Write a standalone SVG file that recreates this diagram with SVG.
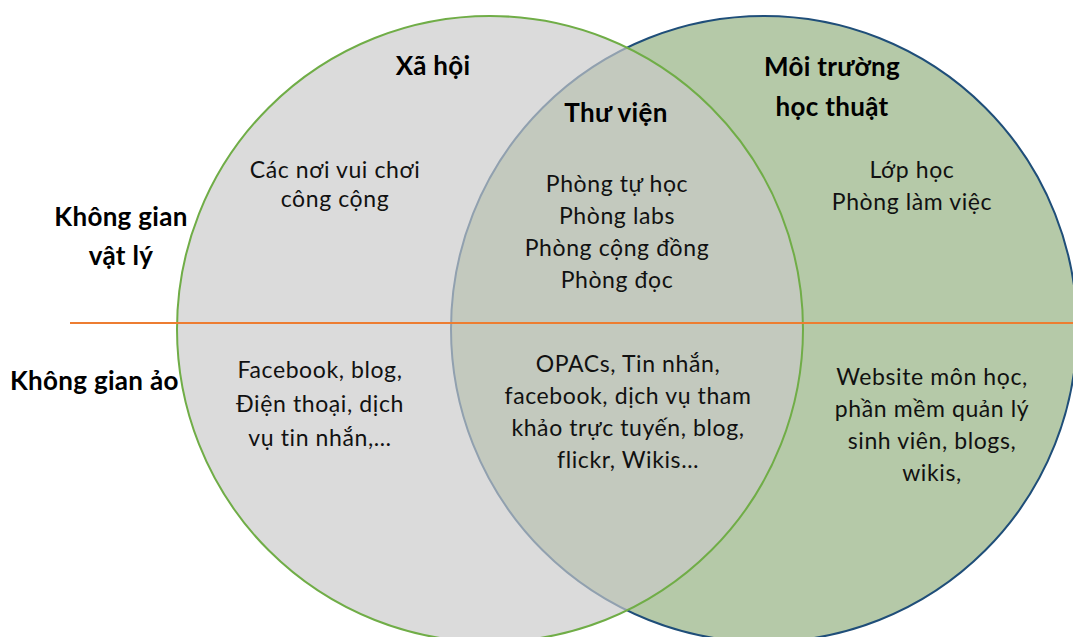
<svg xmlns="http://www.w3.org/2000/svg" width="1073" height="637" viewBox="0 0 1073 637">
<style>
.t{font-family:Lato,"Noto Sans",sans-serif;font-size:23px;fill:#111;text-anchor:middle;letter-spacing:0.6px}
.b{font-family:Lato,"Noto Sans",sans-serif;font-size:26px;font-weight:bold;fill:#000;text-anchor:middle;letter-spacing:0.3px}
</style>
<rect width="1073" height="637" fill="#ffffff"/>
<g id="circle-moi-truong">
<circle cx="764" cy="329" r="313" fill="#b5c9a8" stroke="#1f4e79" stroke-width="2"/>
</g>
<g id="circle-xa-hoi">
<circle cx="490" cy="329" r="313" fill="#c9c9c9" fill-opacity="0.67" stroke="#70ad47" stroke-width="2"/>
</g>
<g id="connectors">
<line x1="70" y1="323" x2="1073" y2="323" stroke="#ed7d31" stroke-width="2"/>
</g>
<g id="label-xa-hoi"><text class="b" x="433" y="75">Xã hội</text></g>
<g id="label-thu-vien"><text class="b" x="616" y="122">Thư viện</text></g>
<g id="label-moi-truong"><text class="b" x="832" y="76">Môi trường</text><text class="b" x="832" y="116">học thuật</text></g>
<g id="label-vat-ly"><text class="b" x="121" y="226">Không gian</text><text class="b" x="121" y="265">vật lý</text></g>
<g id="label-ao"><text class="b" x="10" y="390" style="text-anchor:start">Không gian ảo</text></g>
<g id="xa-hoi-vat-ly"><text class="t" x="335" y="178">Các nơi vui chơi</text><text class="t" x="335" y="207">công cộng</text></g>
<g id="thu-vien-vat-ly"><text class="t" x="617" y="192">Phòng tự học</text><text class="t" x="617" y="224">Phòng labs</text><text class="t" x="617" y="256">Phòng cộng đồng</text><text class="t" x="617" y="288">Phòng đọc</text></g>
<g id="moi-truong-vat-ly"><text class="t" x="912" y="178">Lớp học</text><text class="t" x="912" y="210">Phòng làm việc</text></g>
<g id="xa-hoi-ao"><text class="t" x="320" y="378">Facebook, blog,</text><text class="t" x="320" y="412">Điện thoại, dịch</text><text class="t" x="320" y="446">vụ tin nhắn,…</text></g>
<g id="thu-vien-ao"><text class="t" x="628" y="372">OPACs, Tin nhắn,</text><text class="t" x="628" y="404">facebook, dịch vụ tham</text><text class="t" x="628" y="436">khảo trực tuyến, blog,</text><text class="t" x="628" y="468">flickr, Wikis…</text></g>
<g id="moi-truong-ao"><text class="t" x="932" y="385">Website môn học,</text><text class="t" x="932" y="417">phần mềm quản lý</text><text class="t" x="932" y="449">sinh viên, blogs,</text><text class="t" x="932" y="481">wikis,</text></g>
</svg>
